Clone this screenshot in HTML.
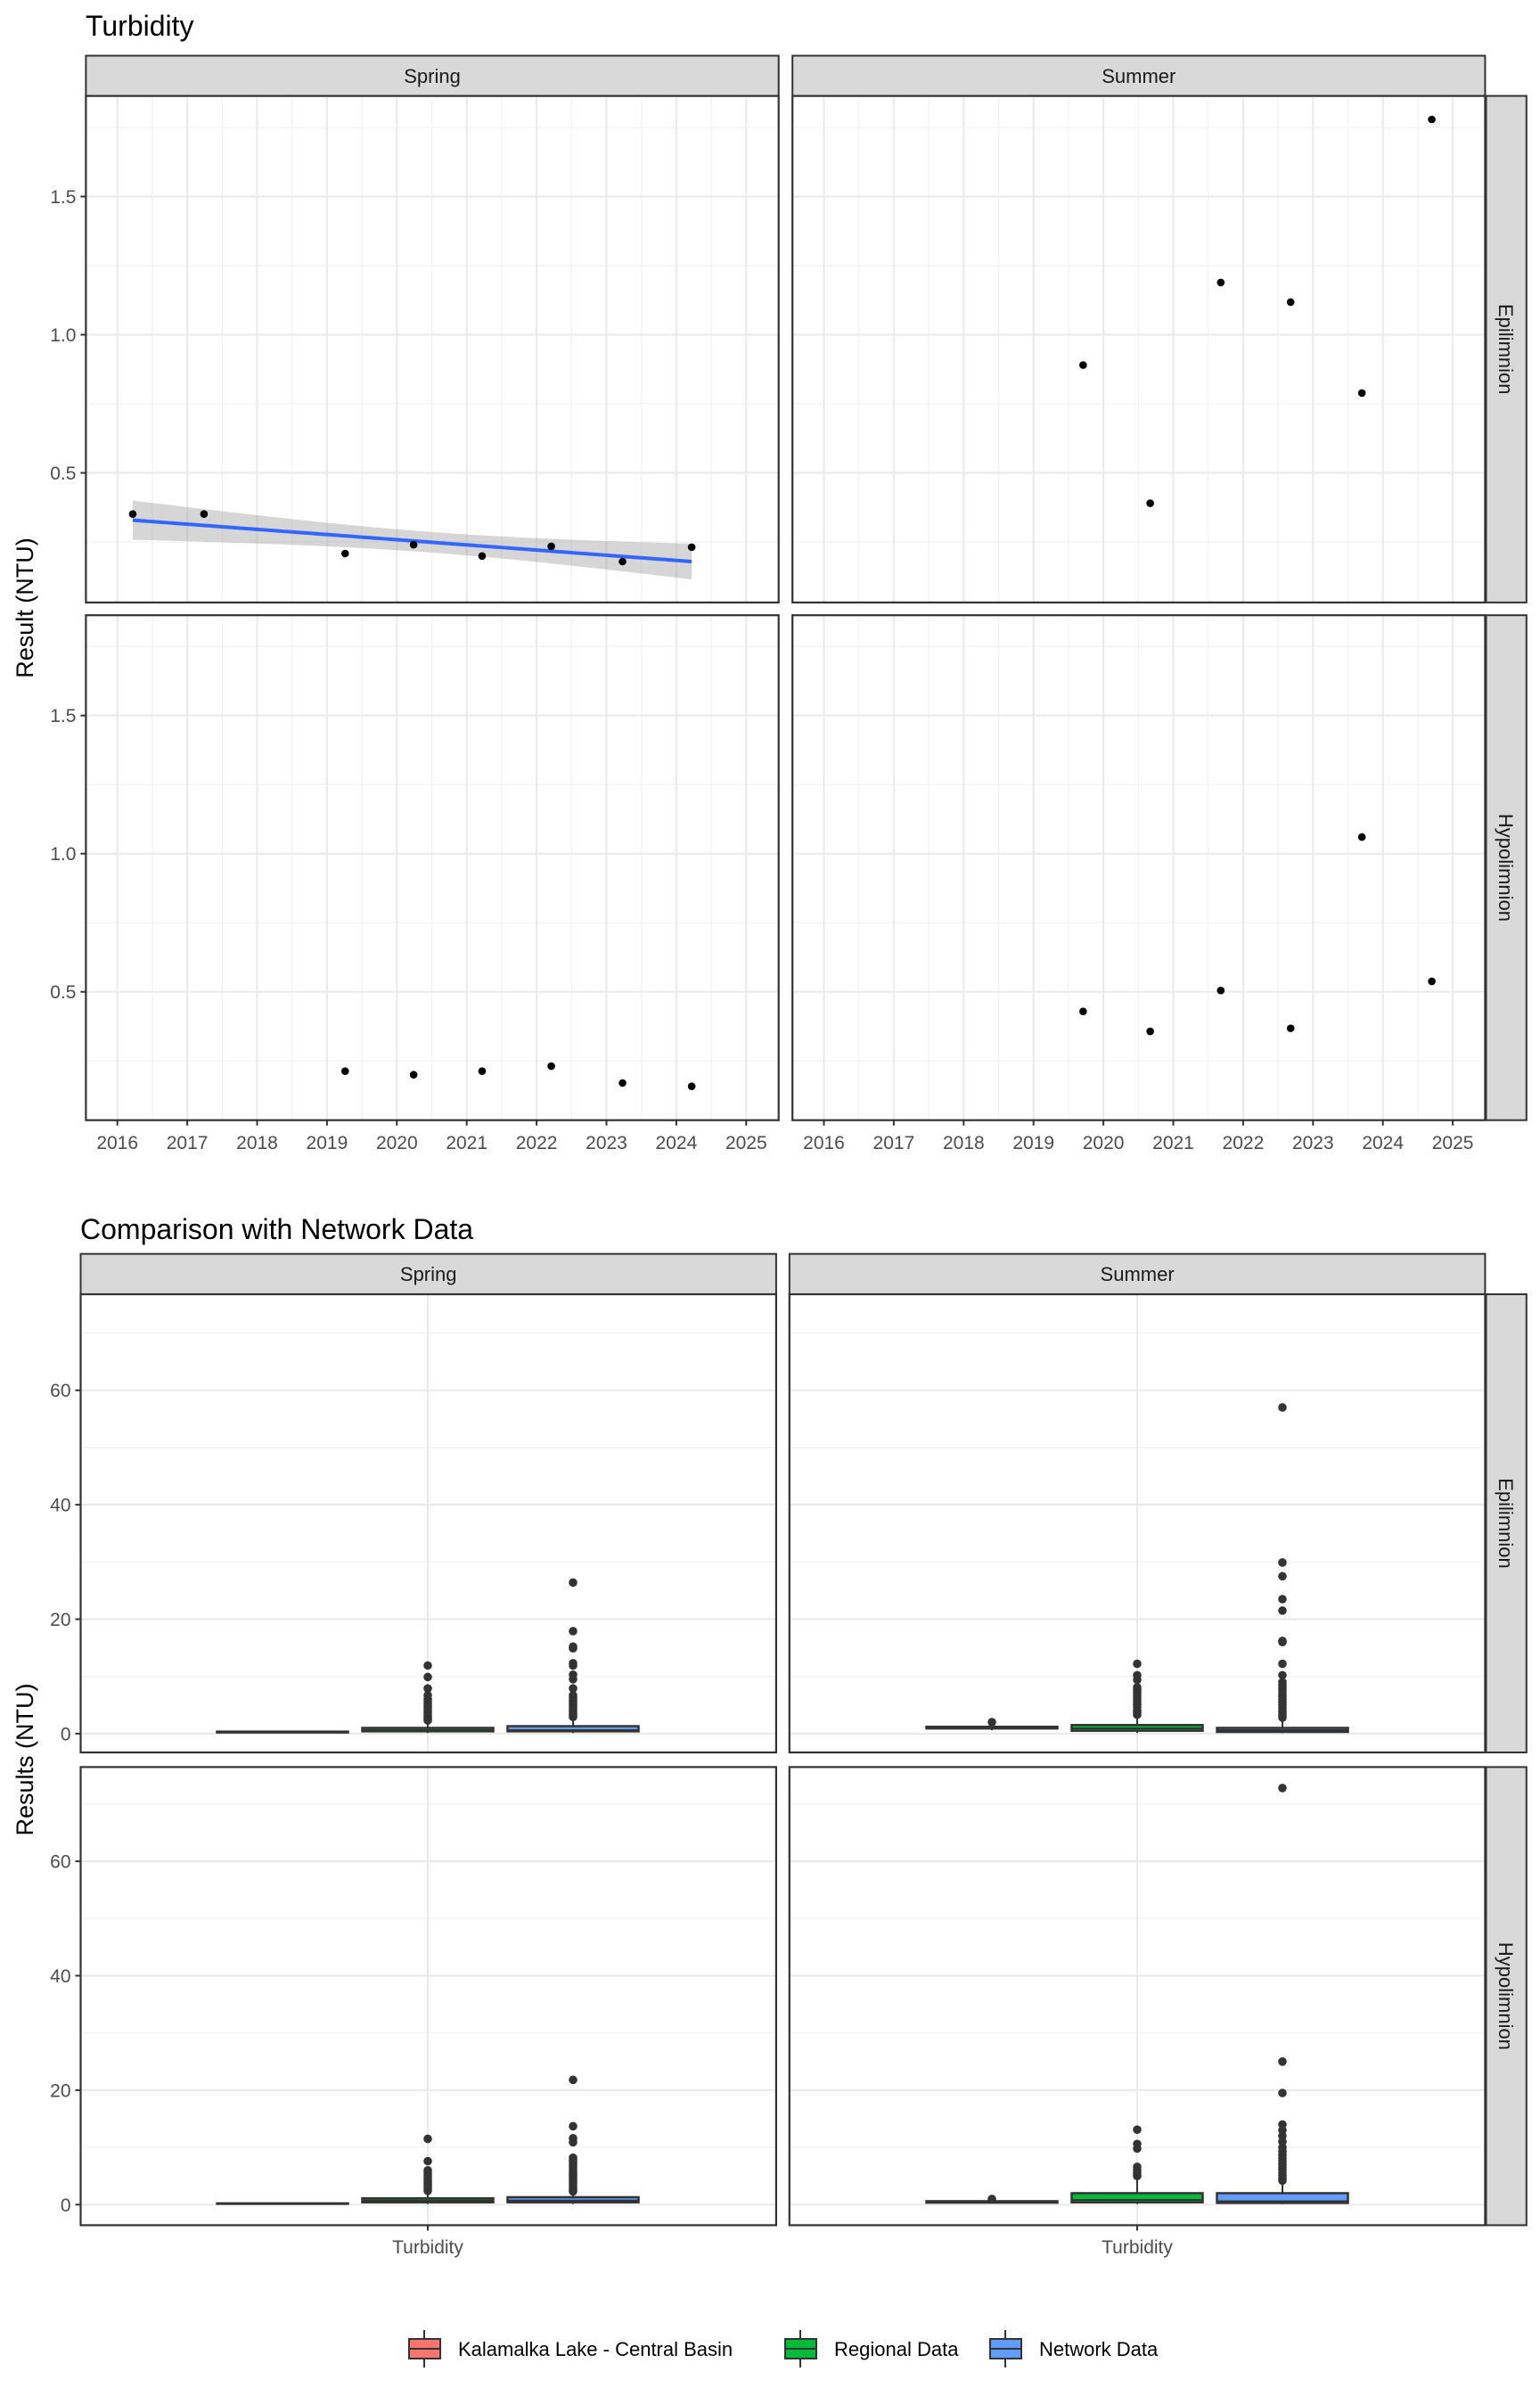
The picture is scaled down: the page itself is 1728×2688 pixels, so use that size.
<!DOCTYPE html>
<html><head><meta charset="utf-8"><style>
html,body{margin:0;padding:0;background:#fff;}
svg{display:block;font-family:"Liberation Sans",Arial,sans-serif;}
</style></head><body>
<svg id="c" width="1728" height="2688" viewBox="0 0 1728 2688" xmlns="http://www.w3.org/2000/svg">
<rect width="1728" height="2688" fill="#fff"/>
<text x="96" y="40" font-size="32" fill="#000">Turbidity</text>
<text x="90" y="1390" font-size="32" fill="#000">Comparison with Network Data</text>
<text transform="translate(37,682) rotate(-90)" text-anchor="middle" font-size="27" fill="#000">Result (NTU)</text>
<text transform="translate(37,1974) rotate(-90)" text-anchor="middle" font-size="27" fill="#000">Results (NTU)</text>
<g id="g1"></g><g id="g2"></g>
<g>
<g>
<line x1="476" y1="2614" x2="476" y2="2656" stroke="#333" stroke-width="2"/>
<rect x="459" y="2624" width="35" height="22" fill="#F8766D" stroke="#333" stroke-width="2"/>
<line x1="459" y1="2635" x2="494" y2="2635" stroke="#333" stroke-width="2"/>
<text x="514" y="2643" font-size="22" fill="#000">Kalamalka Lake - Central Basin</text></g>
<g>
<line x1="898" y1="2614" x2="898" y2="2656" stroke="#333" stroke-width="2"/>
<rect x="881" y="2624" width="35" height="22" fill="#00BA38" stroke="#333" stroke-width="2"/>
<line x1="881" y1="2635" x2="916" y2="2635" stroke="#333" stroke-width="2"/>
<text x="936" y="2643" font-size="22" fill="#000">Regional Data</text></g>
<g>
<line x1="1128" y1="2614" x2="1128" y2="2656" stroke="#333" stroke-width="2"/>
<rect x="1111" y="2624" width="35" height="22" fill="#619CFF" stroke="#333" stroke-width="2"/>
<line x1="1111" y1="2635" x2="1146" y2="2635" stroke="#333" stroke-width="2"/>
<text x="1166" y="2643" font-size="22" fill="#000">Network Data</text></g>
</g>
</svg>
<script>
// ---------- Chart 1 data ----------
const years = [2016,2017,2018,2019,2020,2021,2022,2023,2024,2025];
const yTicks1 = [0.5,1.0,1.5];
const yTickLabels1 = ["0.5","1.0","1.5"];
const springEpiX = [2016.22,2017.24,2019.26,2020.24,2021.22,2022.21,2023.23,2024.22];
const springEpiY = [0.351,0.351,0.208,0.240,0.199,0.234,0.179,0.231];
const springHypoX = [2019.26,2020.24,2021.22,2022.21,2023.23,2024.22];
const springHypoY = [0.213,0.200,0.213,0.231,0.170,0.158];
const summerEpiX = [2019.71,2020.67,2021.68,2022.68,2023.70,2024.70];
const summerEpiY = [0.890,0.390,1.189,1.118,0.789,1.779];
const summerHypoX = [2019.71,2020.67,2021.68,2022.68,2023.70,2024.70];
const summerHypoY = [0.429,0.357,0.505,0.368,1.060,0.538];
// ---------- Chart 2 data ----------
const groups = ["Kalamalka Lake - Central Basin","Regional Data","Network Data"];
const groupColors = ["#F8766D","#00BA38","#619CFF"];
const yTicks2 = [0,20,40,60];
const yTickLabels2 = ["0","20","40","60"];
// stats: [lowerWhisker, q1, median, q3, upperWhisker]
const springEpiStats = [[0.15,0.2,0.3,0.35,0.5],[0.1,0.4,0.6,1.0,2.2],[0.1,0.4,0.6,1.3,2.8]];
const summerEpiStats = [[0.6,0.9,1.0,1.2,1.8],[0.1,0.5,0.9,1.5,3.2],[0.1,0.3,0.6,1.0,2.6]];
const springHypoStats = [[0.13,0.15,0.2,0.22,0.25],[0.1,0.4,0.7,1.1,2.2],[0.1,0.4,0.7,1.3,2.4]];
const summerHypoStats = [[0.25,0.35,0.45,0.6,0.9],[0.1,0.4,0.8,2.0,4.5],[0.1,0.3,0.6,2.0,4.2]];
const springEpiOut = [[],[11.9,9.9,7.9,6.7,6.0,5.6,5.2,4.8,4.4,4.0,3.6,3.2,2.9,2.6,2.3],
  [26.4,17.9,15.2,14.9,12.3,11.9,10.3,9.5,7.9,6.7,6.3,5.8,5.4,5.0,4.6,4.2,3.8,3.4,3.1,2.9]];
const summerEpiOut = [[2.0],[12.2,10.2,9.4,8.1,7.6,7.1,6.6,6.1,5.6,5.1,4.6,4.1,3.7,3.3],
  [57.0,29.9,27.5,23.5,21.5,16.2,16.0,12.2,10.2,9.0,8.5,8.0,7.5,7.0,6.5,6.0,5.5,5.0,4.5,4.0,3.6,3.2,2.8]];
const springHypoOut = [[],[11.5,7.6,6.0,5.6,5.2,4.8,4.4,4.0,3.6,3.2,2.8,2.4],
  [21.8,13.7,11.6,10.9,8.2,7.8,7.4,7.0,6.6,6.2,5.8,5.4,5.0,4.6,4.2,3.8,3.4,3.0,2.6,2.3]];
const summerHypoOut = [[1.0],[13.1,10.6,9.8,6.6,6.0,5.5,5.0],
  [72.8,25.0,19.5,14.0,13.0,12.0,11.0,10.0,9.3,8.7,8.1,7.6,7.1,6.6,6.1,5.6,5.1,4.6,4.2]];

const NS="http://www.w3.org/2000/svg";
function mk(tag,attrs,parent){const e=document.createElementNS(NS,tag);for(const k in attrs)e.setAttribute(k,attrs[k]);parent.appendChild(e);return e;}
const g1=document.getElementById('g1'), g2=document.getElementById('g2');

// ---------- Chart 1 layout ----------
const c1cols=[{x0:96.4,x1:873.7,ref:131.7,name:"Spring"},{x0:889.2,x1:1666.4,ref:924.5,name:"Summer"}];
const c1rows=[{y0:107.6,y1:675.9,ref:220.5,name:"Epilimnion"},{y0:690.2,y1:1256.7,ref:802.7,name:"Hypolimnion"}];
const PXY=78.4, PXV=310;
function xs1(col,yr){return col.ref+(yr-2016)*PXY;}
function ys1(row,v){return row.ref+(1.5-v)*PXV;}
const c1data=[[[springEpiX,springEpiY],[summerEpiX,summerEpiY]],[[springHypoX,springHypoY],[summerHypoX,summerHypoY]]];

c1cols.forEach((col,ci)=>{
  const s=mk('rect',{x:col.x0,y:62.5,width:col.x1-col.x0,height:45.1,fill:'#D9D9D9',stroke:'#333','stroke-width':2},g1);
  
  
  const t=mk('text',{x:(col.x0+col.x1)/2,y:93,'text-anchor':'middle','font-size':22,fill:'#1A1A1A'},g1);t.textContent=col.name;
  
  
  c1rows.forEach((row,ri)=>{
    const p=mk('g',{},g1);
    
    
    for(let i=0;i<years.length;i++){const x=xs1(col,years[i]-0.5);if(x>col.x0&&x<col.x1)mk('line',{x1:x,x2:x,y1:row.y0,y2:row.y1,stroke:'#F2F2F2','stroke-width':1.2},p);}
    [0.25,0.75,1.25,1.75].forEach(v=>{const y=ys1(row,v);mk('line',{x1:col.x0,x2:col.x1,y1:y,y2:y,stroke:'#F2F2F2','stroke-width':1.2},p);});
    years.forEach(yr=>{const x=xs1(col,yr);mk('line',{x1:x,x2:x,y1:row.y0,y2:row.y1,stroke:'#EBEBEB','stroke-width':2.2},p);});
    yTicks1.forEach(v=>{const y=ys1(row,v);mk('line',{x1:col.x0,x2:col.x1,y1:y,y2:y,stroke:'#EBEBEB','stroke-width':2.2},p);});
    if(ci===0&&ri===0){
      const X=springEpiX,Y=springEpiY,n=X.length;
      const mx=X.reduce((a,b)=>a+b)/n,my=Y.reduce((a,b)=>a+b)/n;
      let sxx=0,sxy=0;for(let i=0;i<n;i++){sxx+=(X[i]-mx)**2;sxy+=(X[i]-mx)*(Y[i]-my);}
      const b=sxy/sxx,a=my-b*mx;let sse=0;for(let i=0;i<n;i++)sse+=(Y[i]-a-b*X[i])**2;
      const se=Math.sqrt(sse/(n-2)),tq=2.447;
      const xmin=Math.min(...X),xmax=Math.max(...X);
      const up=[],lo=[],ln=[];
      for(let k=0;k<=80;k++){const xx=xmin+(xmax-xmin)*k/80;const yy=a+b*xx;const h=tq*se*Math.sqrt(1/n+(xx-mx)**2/sxx);
        up.push(xs1(col,xx)+','+ys1(row,yy+h));lo.unshift(xs1(col,xx)+','+ys1(row,yy-h));ln.push(xs1(col,xx)+','+ys1(row,yy));}
      const band=mk('polygon',{points:up.concat(lo).join(' '),fill:'#999','fill-opacity':0.4},p);
      
      
      const l=mk('polyline',{points:ln.join(' '),fill:'none',stroke:'#3366FF','stroke-width':4},p);
      
      
    }
    const [DX,DY]=c1data[ri][ci];
    DX.forEach((xv,i)=>{const c=mk('circle',{cx:xs1(col,xv),cy:ys1(row,DY[i]),r:4.3,fill:'#000'},p);
      
      });
    mk('rect',{x:col.x0,y:row.y0,width:col.x1-col.x0,height:row.y1-row.y0,fill:'none',stroke:'#333','stroke-width':2.2},p);
    if(ci===0){yTicks1.forEach((v,i)=>{const y=ys1(row,v);mk('line',{x1:col.x0-6,x2:col.x0,y1:y,y2:y,stroke:'#333','stroke-width':2},p);
      const t=mk('text',{x:col.x0-11,y:y+7.5,'text-anchor':'end','font-size':21,fill:'#4D4D4D'},p);t.textContent=yTickLabels1[i];
      
      });}
    if(ri===1){years.forEach(yr=>{const x=xs1(col,yr);mk('line',{x1:x,x2:x,y1:row.y1,y2:row.y1+6,stroke:'#333','stroke-width':2},p);
      const t=mk('text',{x:x,y:1289,'text-anchor':'middle','font-size':21,fill:'#4D4D4D'},p);t.textContent=String(yr);
      
      });}
  });
});
c1rows.forEach(row=>{
  const s=mk('rect',{x:1667.5,y:row.y0,width:45.3,height:row.y1-row.y0,fill:'#D9D9D9',stroke:'#333','stroke-width':2},g1);
  
  
  const cy=(row.y0+row.y1)/2;
  const t=mk('text',{transform:'translate(1682,'+cy+') rotate(90)','text-anchor':'middle','font-size':22,fill:'#1A1A1A'},g1);t.textContent=row.name;
  
  
});

// ---------- Chart 2 layout ----------
const c2cols=[{x0:90.5,x1:870.9,cx:480,name:"Spring"},{x0:885.8,x1:1666.4,cx:1276,name:"Summer"}];
const c2rows=[{y0:1452,y1:1966,zero:1944.9,name:"Epilimnion"},{y0:1982.4,y1:2496.4,zero:2473.3,name:"Hypolimnion"}];
const PXU=6.42, DODGE=163, BW=147;
function ys2(row,v){return row.zero-v*PXU;}
const c2stats=[[springEpiStats,summerEpiStats],[springHypoStats,summerHypoStats]];
const c2out=[[springEpiOut,summerEpiOut],[springHypoOut,summerHypoOut]];

c2cols.forEach((col,ci)=>{
  const s=mk('rect',{x:col.x0,y:1406.7,width:col.x1-col.x0,height:45.3,fill:'#D9D9D9',stroke:'#333','stroke-width':2},g2);
  
  
  const t=mk('text',{x:(col.x0+col.x1)/2,y:1437,'text-anchor':'middle','font-size':22,fill:'#1A1A1A'},g2);t.textContent=col.name;
  
  
  c2rows.forEach((row,ri)=>{
    const p=mk('g',{},g2);
    
    
    [10,30,50,70].forEach(v=>{const y=ys2(row,v);mk('line',{x1:col.x0,x2:col.x1,y1:y,y2:y,stroke:'#F2F2F2','stroke-width':1.2},p);});
    yTicks2.forEach(v=>{const y=ys2(row,v);mk('line',{x1:col.x0,x2:col.x1,y1:y,y2:y,stroke:'#EBEBEB','stroke-width':2.2},p);});
    mk('line',{x1:col.cx,x2:col.cx,y1:row.y0,y2:row.y1,stroke:'#EBEBEB','stroke-width':2.2},p);
    const st=c2stats[ri][ci], ou=c2out[ri][ci];
    st.forEach((sv,gi)=>{
      const bx=col.cx+(gi-1)*DODGE;
      const bg=mk('g',{},p);
      
      
      mk('line',{x1:bx,x2:bx,y1:ys2(row,sv[0]),y2:ys2(row,sv[4]),stroke:'#333','stroke-width':2},bg);
      const yq3=ys2(row,sv[3]),yq1=ys2(row,sv[1]);
      mk('rect',{x:bx-BW/2,y:yq3,width:BW,height:Math.max(yq1-yq3,0.5),fill:groupColors[gi],stroke:'#333','stroke-width':2.5},bg);
      mk('line',{x1:bx-BW/2,x2:bx+BW/2,y1:ys2(row,sv[2]),y2:ys2(row,sv[2]),stroke:'#333','stroke-width':2},bg);
      ou[gi].forEach(v=>{const c=mk('circle',{cx:bx,cy:ys2(row,v),r:4.8,fill:'#333'},bg);
        
        });
    });
    mk('rect',{x:col.x0,y:row.y0,width:col.x1-col.x0,height:row.y1-row.y0,fill:'none',stroke:'#333','stroke-width':2.2},p);
    if(ci===0){yTicks2.forEach((v,i)=>{const y=ys2(row,v);mk('line',{x1:col.x0-6,x2:col.x0,y1:y,y2:y,stroke:'#333','stroke-width':2},p);
      const t=mk('text',{x:col.x0-11,y:y+7.5,'text-anchor':'end','font-size':21,fill:'#4D4D4D'},p);t.textContent=yTickLabels2[i];
      
      });}
    if(ri===1){mk('line',{x1:col.cx,x2:col.cx,y1:row.y1,y2:row.y1+6,stroke:'#333','stroke-width':2},p);
      const t=mk('text',{x:col.cx,y:2528,'text-anchor':'middle','font-size':21,fill:'#4D4D4D'},p);t.textContent='Turbidity';
      
      }
  });
});
c2rows.forEach(row=>{
  const s=mk('rect',{x:1667.5,y:row.y0,width:45.3,height:row.y1-row.y0,fill:'#D9D9D9',stroke:'#333','stroke-width':2},g2);
  
  
  const cy=(row.y0+row.y1)/2;
  const t=mk('text',{transform:'translate(1682,'+cy+') rotate(90)','text-anchor':'middle','font-size':22,fill:'#1A1A1A'},g2);t.textContent=row.name;
  
  
});
</script>
</body></html>
